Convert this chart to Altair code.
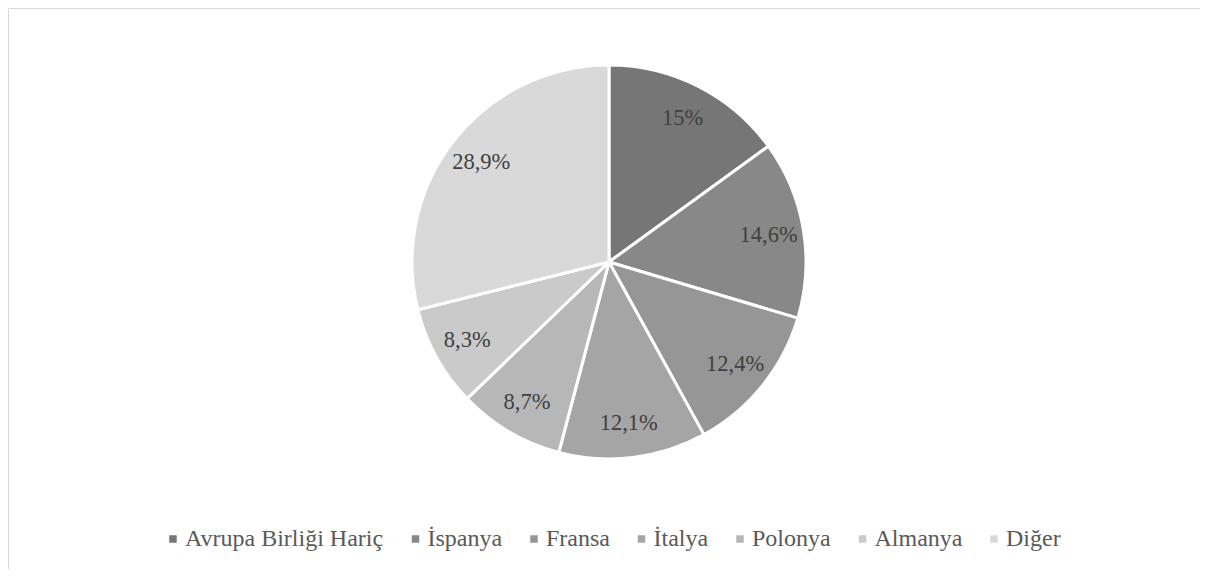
import altair as alt
import pandas as pd

categories = ["Avrupa Birliği Hariç", "İspanya", "Fransa", "İtalya", "Polonya", "Almanya", "Diğer"]
values = [15, 14.6, 12.4, 12.1, 8.7, 8.3, 28.9]
colors = ["#767676", "#888888", "#969696", "#a5a5a5", "#b7b7b7", "#cacaca", "#d9d9d9"]

df = pd.DataFrame({
    "cat": categories,
    "val": values,
    "idx": list(range(len(categories))),
    "label": [(f"{v:g}".replace(".", ",") + "%") for v in values],
})

FONT = "Liberation Serif"
CX, CY, R = 601, 254, 197

base = alt.Chart(df).encode(
    theta=alt.Theta("val:Q", stack=True),
    order=alt.Order("idx:Q"),
)

pie = base.mark_arc(stroke="white", strokeWidth=3).encode(
    x=alt.value(CX),
    y=alt.value(CY),
    radius=alt.value(R),
    color=alt.Color(
        "cat:N",
        scale=alt.Scale(domain=categories, range=colors),
        sort=None,
        legend=alt.Legend(
            title=None,
            orient="none",
            direction="horizontal",
            legendX=153,
            legendY=519,
            symbolType="square",
            symbolSize=56,
            symbolStrokeWidth=0,
            symbolOpacity=1,
            labelFont=FONT,
            labelFontSize=24,
            labelColor="#595959",
            labelOffset=0,
            columnPadding=19.5,
            labelLimit=400,
        ),
    ),
)

text = base.mark_text(font=FONT, fontSize=22.5, color="#404040").encode(
    x=alt.value(CX),
    y=alt.value(CY),
    radius=alt.value(162),
    text="label:N",
)

chart = (
    alt.layer(pie, text)
    .properties(width=1192, height=561, padding=0, autosize=alt.AutoSizeParams(type="none"))
    .configure(font=FONT)
    .configure_view(stroke="#d9d9d9", strokeWidth=1)
)

chart.save("out.html", embed_options={"renderer": "svg", "actions": False})
